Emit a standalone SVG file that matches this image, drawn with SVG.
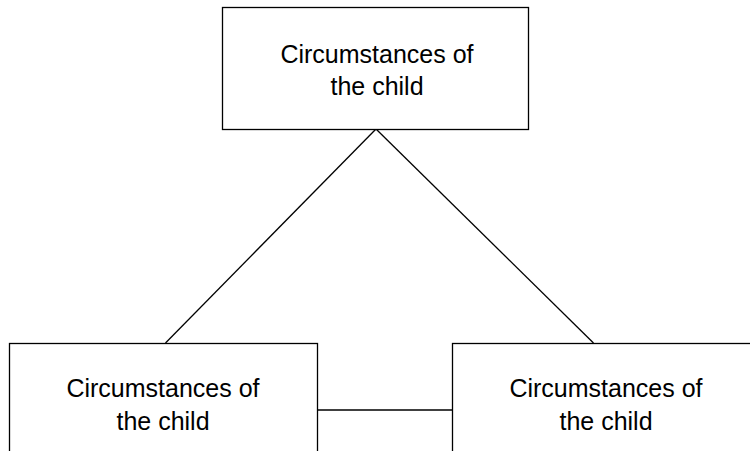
<svg xmlns="http://www.w3.org/2000/svg" width="750" height="451" viewBox="0 0 750 451">
<style>
.box{fill:#fff;stroke:#000;stroke-width:1.3}
.lbl{font-family:"Liberation Sans",Arial,sans-serif;font-size:25px;fill:#000;text-anchor:middle}
.conn{stroke:#000;stroke-width:1.3;fill:none}
</style>
<rect width="750" height="451" fill="#fff"/>
<g id="connectors">
<line class="conn" x1="376" y1="129" x2="165.5" y2="343"/>
<line class="conn" x1="376" y1="129" x2="593.5" y2="343"/>
<line class="conn" x1="317" y1="410" x2="453" y2="410"/>
</g>
<g id="top">
<rect class="box" x="222.5" y="7.5" width="306" height="122"/>
<text class="lbl" x="377" y="63">Circumstances of</text>
<text class="lbl" x="377" y="94.5">the child</text>
</g>
<g id="left">
<rect class="box" x="9.5" y="343.5" width="308" height="120"/>
<text class="lbl" x="163" y="397">Circumstances of</text>
<text class="lbl" x="163" y="430">the child</text>
</g>
<g id="right">
<rect class="box" x="452.5" y="343.5" width="308" height="120"/>
<text class="lbl" x="606" y="397">Circumstances of</text>
<text class="lbl" x="606" y="430">the child</text>
</g>
</svg>
